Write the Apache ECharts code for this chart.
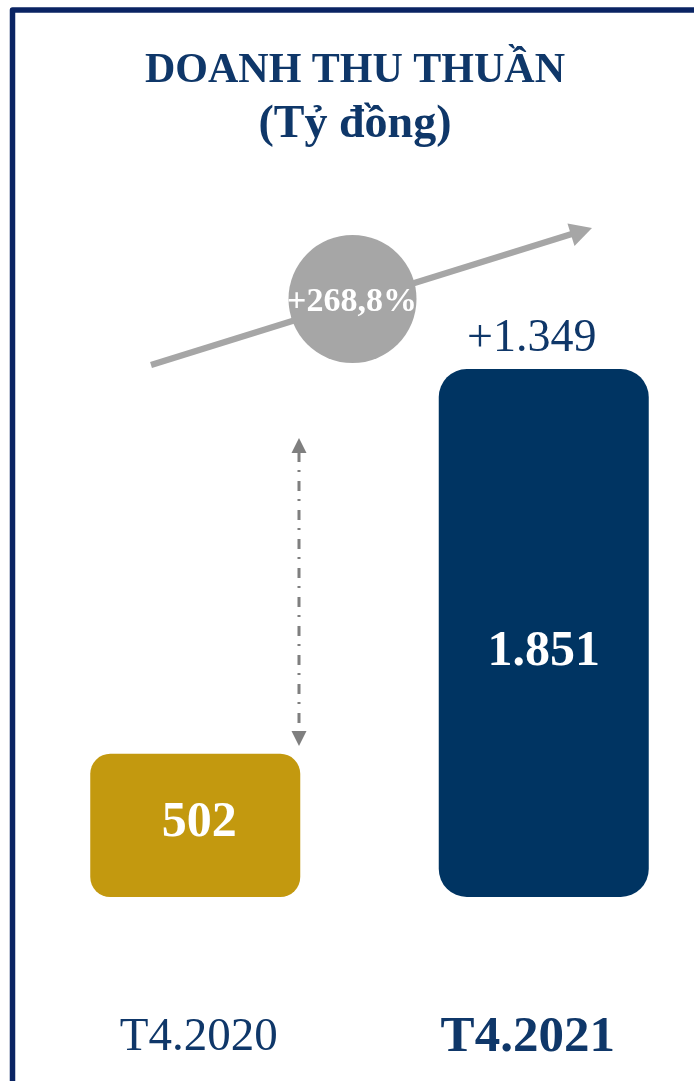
<!DOCTYPE html>
<html>
<head>
<meta charset="utf-8">
<script src="https://cdn.jsdelivr.net/npm/echarts@6/dist/echarts.min.js"></script>
<style>
html,body{margin:0;padding:0;background:#fff;overflow:hidden;}
#chart{width:694px;height:1081px;}
</style>
</head>
<body>
<div id="chart"></div>
<script>
// ---- data ----
const categories = ['T4.2020', 'T4.2021'];
const revenue = [502, 1851];
const growthText = '+268,8%';
const titleLines = ['DOANH THU THUẦN', '(Tỷ đồng)'];

const NAVY = '#0f3769';
const BAR_NAVY = '#003462';
const GOLD = '#c3990f';
const FONT = 'Liberation Serif';

function fmt(v) {
  return String(v).replace(/\B(?=(\d{3})+(?!\d))/g, '.');
}
const diff = revenue[1] - revenue[0];

const chart = echarts.init(document.getElementById('chart'), null, {renderer: 'canvas'});

const barStyles = [
  {color: GOLD, borderRadius: 20},
  {color: BAR_NAVY, borderRadius: 28}
];
const labelOffsets = [[4, -2], [0, 19]];

chart.setOption({
  animation: false,
  backgroundColor: '#ffffff',
  title: {
    text: '{a|' + titleLines[0] + '}\n{b|' + titleLines[1] + '}',
    left: 355,
    top: 45,
    padding: 0,
    textAlign: 'center',
    textStyle: {
      fontFamily: FONT,
      fontWeight: 'bold',
      fontSize: 42,
      color: NAVY,
      rich: {
        a: {fontFamily: FONT, fontWeight: 'bold', fontSize: 42, lineHeight: 52, color: NAVY},
        b: {fontFamily: FONT, fontWeight: 'bold', fontSize: 46, lineHeight: 56, color: NAVY}
      }
    }
  },
  grid: {left: 21, top: 184, width: 697, height: 713, outerBoundsMode: 'none', containLabel: false},
  xAxis: {
    type: 'category',
    data: categories,
    axisLine: {show: false},
    axisTick: {show: false},
    axisLabel: {
      margin: 141,
      verticalAlign: 'middle',
      formatter: function (v, i) { return i === 1 ? '{b|' + v + '}' : '{a|' + v + '}'; },
      rich: {
        a: {fontFamily: FONT, fontSize: 47, color: NAVY, padding: [0, 0, 0, 7]},
        b: {fontFamily: FONT, fontSize: 51, fontWeight: 'bold', color: NAVY, padding: [0, 32, 0, 0]}
      }
    }
  },
  yAxis: {
    type: 'value',
    min: 0,
    max: 2500,
    show: false,
    splitLine: {show: false}
  },
  series: [{
    type: 'bar',
    barWidth: 210,
    data: revenue.map((v, i) => ({
      value: v,
      itemStyle: barStyles[i],
      label: {offset: labelOffsets[i]}
    })),
    label: {
      show: true,
      position: 'inside',
      formatter: p => fmt(p.value),
      fontFamily: FONT,
      fontWeight: 'bold',
      fontSize: 50,
      color: '#ffffff'
    },
    markPoint: {
      symbol: 'circle',
      symbolSize: 0,
      data: [{
        coord: [categories[1], revenue[1]],
        value: diff,
        label: {
          show: true,
          formatter: '+' + fmt(diff),
          offset: [-12, -30],
          fontFamily: FONT,
          fontSize: 46,
          color: NAVY
        }
      }]
    }
  }],
  graphic: [
    // frame
    {type: 'polyline', silent: true, z: 10,
      shape: {points: [[12.5, 1100], [12.5, 10], [710, 10]]},
      style: {stroke: '#0a2463', lineWidth: 5.5, fill: null, lineJoin: 'round'}},
    // growth arrow
    {type: 'line', silent: true, z: 5,
      shape: {x1: 151, y1: 365, x2: 575, y2: 233},
      style: {stroke: '#a6a6a6', lineWidth: 6.5}},
    {type: 'polygon', silent: true, z: 5,
      shape: {points: [[592, 228], [567.5, 223.5], [574.5, 246]]},
      style: {fill: '#a6a6a6'}},
    {type: 'circle', silent: true, z: 6,
      shape: {cx: 352.5, cy: 299, r: 64},
      style: {fill: '#a6a6a6'}},
    {type: 'text', silent: true, z: 7,
      x: 352, y: 302,
      style: {text: growthText, fill: '#ffffff', font: 'bold 34px "' + FONT + '"', align: 'center', verticalAlign: 'middle'}},
    // dash-dot double arrow
    {type: 'line', silent: true, z: 5,
      shape: {x1: 299, y1: 452, x2: 299, y2: 732},
      style: {stroke: '#7f7f7f', lineWidth: 3, lineDash: [10, 8, 2, 9]}},
    {type: 'polygon', silent: true, z: 5,
      shape: {points: [[299, 438], [291.5, 453], [306.5, 453]]},
      style: {fill: '#7f7f7f'}},
    {type: 'polygon', silent: true, z: 5,
      shape: {points: [[299, 746], [291.5, 731], [306.5, 731]]},
      style: {fill: '#7f7f7f'}}
  ]
});
</script>
</body>
</html>
